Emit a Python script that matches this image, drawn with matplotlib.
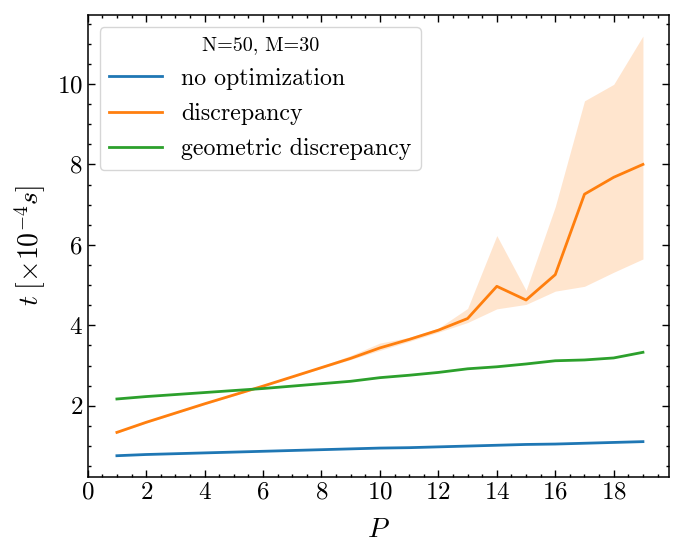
import numpy as np
import matplotlib
matplotlib.use("Agg")
import matplotlib.pyplot as plt
from matplotlib.ticker import MultipleLocator

P = list(range(1, 20))
no_opt = [0.76, 0.79, 0.81, 0.83, 0.85, 0.87, 0.89, 0.91, 0.93, 0.95,
          0.96, 0.98, 1.00, 1.02, 1.04, 1.05, 1.07, 1.09, 1.11]
discrepancy = [1.34, 1.59, 1.82, 2.05, 2.27, 2.49, 2.72, 2.95, 3.18, 3.44,
               3.65, 3.88, 4.17, 4.97, 4.63, 5.26, 7.26, 7.68, 8.00]
disc_low = [1.32, 1.57, 1.80, 2.03, 2.25, 2.47, 2.70, 2.93, 3.15, 3.38,
            3.60, 3.83, 4.07, 4.41, 4.52, 4.85, 4.97, 5.32, 5.65]
disc_high = [1.36, 1.61, 1.84, 2.07, 2.29, 2.52, 2.75, 2.99, 3.25, 3.56,
             3.70, 3.93, 4.42, 6.23, 4.87, 6.95, 9.58, 9.99, 11.19]
geometric = [2.17, 2.23, 2.28, 2.33, 2.38, 2.43, 2.49, 2.55, 2.61, 2.70,
             2.76, 2.83, 2.92, 2.97, 3.04, 3.12, 3.14, 3.19, 3.33]

plt.rcParams.update({
    "font.family": "serif",
    "font.serif": ["cmr10"],
    "mathtext.fontset": "cm",
    "axes.formatter.use_mathtext": True,
    "axes.unicode_minus": False,
})

fig = plt.figure(figsize=(6.85, 5.58), dpi=100)
ax = fig.add_axes([0.128, 0.1457, 0.849, 0.8273])

ax.plot(P, no_opt, color="#1f77b4", lw=2.0, label="no optimization")
ax.plot(P, discrepancy, color="#ff7f0e", lw=2.0, label="discrepancy")
ax.fill_between(P, disc_low, disc_high, color="#ff7f0e", alpha=0.2, lw=0)
ax.plot(P, geometric, color="#2ca02c", lw=2.0, label="geometric discrepancy")

ax.set_xlim(0, 19.9)
ax.margins(y=0.05)
ax.xaxis.set_major_locator(MultipleLocator(2))
ax.xaxis.set_minor_locator(MultipleLocator(0.5))
ax.yaxis.set_major_locator(MultipleLocator(2))
ax.yaxis.set_minor_locator(MultipleLocator(0.5))
ax.tick_params(which="both", direction="in", top=True, right=True, labelsize=18)
ax.tick_params(which="major", length=5, width=1)
ax.tick_params(which="minor", length=2.5, width=1)
for s in ax.spines.values():
    s.set_linewidth(1.1)

ax.set_xlabel(r"$P$", fontsize=20, labelpad=9)
ax.set_ylabel(r"$t\;[\times 10^{-4} s]$", fontsize=20, labelpad=6)

leg = ax.legend(loc="upper left", title="N=50, M=30", fontsize=17.2,
                title_fontsize=14.5, frameon=True, fancybox=True,
                handlelength=2.2, borderaxespad=0.5, labelspacing=0.55)
leg.get_frame().set_edgecolor("#cccccc")

fig.savefig("out.png", dpi=100)
